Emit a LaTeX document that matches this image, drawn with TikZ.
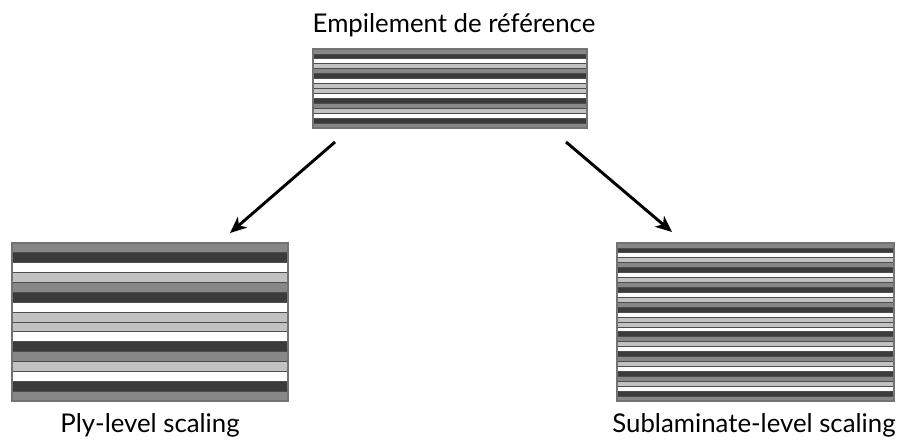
\documentclass[tikz,border=0pt]{standalone}
\usepackage{fontspec}
\setmainfont{Lato}
\usetikzlibrary{arrows.meta,calc}
\definecolor{PlyMid}{rgb}{0.53,0.53,0.53}
\definecolor{PlyDark}{rgb}{0.23,0.23,0.23}
\definecolor{PlyWhite}{rgb}{1,1,1}
\definecolor{PlyLight}{rgb}{0.76,0.76,0.76}
\definecolor{EdgeClr}{rgb}{0.3,0.3,0.3}
\definecolor{BoxClr}{rgb}{0.45,0.45,0.45}
\newcommand{\BaseSeq}{PlyMid,PlyDark,PlyWhite,PlyLight,PlyMid,PlyDark,PlyWhite,PlyLight,PlyLight,PlyWhite,PlyDark,PlyMid,PlyLight,PlyWhite,PlyDark,PlyMid}
\newcommand{\SubSeq}{PlyMid,PlyDark,PlyWhite,PlyLight,PlyMid,PlyDark,PlyWhite,PlyLight,PlyMid,PlyDark,PlyWhite,PlyLight,PlyMid,PlyDark,PlyWhite,PlyLight,PlyLight,PlyWhite,PlyDark,PlyMid,PlyLight,PlyWhite,PlyDark,PlyMid,PlyLight,PlyWhite,PlyDark,PlyMid,PlyLight,PlyWhite,PlyDark,PlyMid}

\begin{document}
\begin{tikzpicture}[x=0.03cm,y=-0.03cm,
  ply/.style={draw=EdgeClr,line width=0.75pt},
  stackbox/.style={draw=BoxClr,line width=0.9pt},
  caption/.style={font=\fontsize{22}{26}\selectfont,inner sep=0pt},
  scalearrow/.style={line width=2.5pt,-{Stealth[length=14pt,width=12pt,inset=4pt]}}]
\useasboundingbox (0,0) rectangle (901,442);

\foreach \c [count=\i from 0] in \BaseSeq
  \filldraw[ply,fill=\c] (313,{49+\i*4.94}) rectangle (587,{49+(\i+1)*4.94});
\draw[stackbox] (313,49) rectangle (587,128);

\foreach \c [count=\i from 0] in \BaseSeq
  \filldraw[ply,fill=\c] (12,{243+\i*9.875}) rectangle (288,{243+(\i+1)*9.875});
\draw[stackbox] (12,243) rectangle (288,401);

\foreach \c [count=\i from 0] in \SubSeq
  \filldraw[ply,fill=\c] (617,{243+\i*4.94}) rectangle (894,{243+(\i+1)*4.94});
\draw[stackbox] (617,243) rectangle (894,401);

\node[caption] (reftitle) at (454,25) {Empilement de référence};
\node[caption] (plytitle) at (150,425) {Ply-level scaling};
\node[caption] (subtitle) at (754,425) {Sublaminate-level scaling};

\coordinate (refL) at (335,142);
\coordinate (refR) at (566,142);
\coordinate (plyTop) at (230,233);
\coordinate (subTop) at (672,232);

\draw[scalearrow] (refL) -- (plyTop);
\draw[scalearrow] (refR) -- (subTop);
\end{tikzpicture}
\end{document}
